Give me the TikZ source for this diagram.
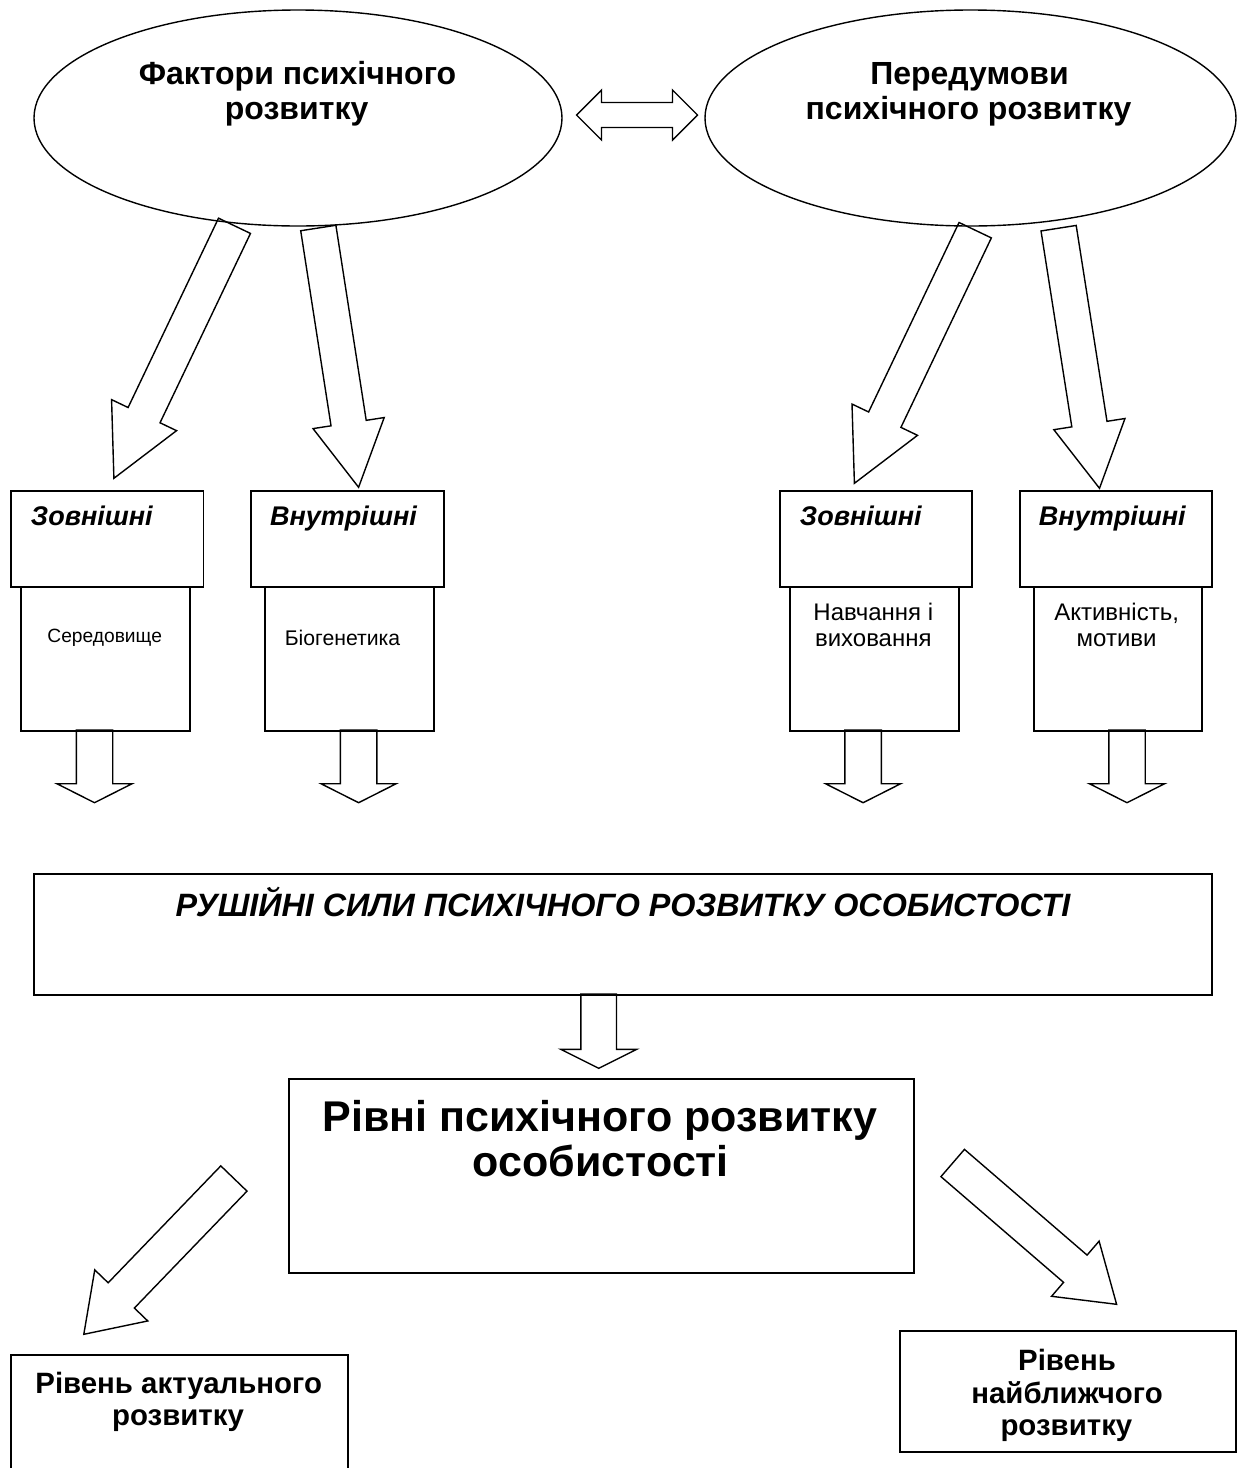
\documentclass[tikz,border=0pt]{standalone}
\usepackage{fontspec}
\setmainfont{Liberation Sans}
\usetikzlibrary{calc,shapes.geometric}
\tikzset{
  frame/.style={draw, line width=1.8pt, rectangle, inner sep=0pt, anchor=north west},
  oval/.style={draw, line width=1.4pt, ellipse, inner sep=0pt},
  barrow/.style={draw, line width=1.4pt, line join=miter},
  ttl/.style={font=\fontsize{32}{36}\selectfont\bfseries, anchor=base, inner sep=0pt},
  hdr/.style={font=\fontsize{27}{31}\selectfont\bfseries\itshape, anchor=base, inner sep=0pt},
  sml/.style={font=\fontsize{19.2}{22}\selectfont, anchor=base, inner sep=0pt},
  mid/.style={font=\fontsize{24}{27}\selectfont, anchor=base, inner sep=0pt},
  rush/.style={font=\fontsize{32.3}{36}\selectfont\bfseries\itshape, anchor=base, inner sep=0pt},
  big/.style={font=\fontsize{43}{47}\selectfont\bfseries, anchor=base, inner sep=0pt},
  lvl/.style={font=\fontsize{29.4}{33}\selectfont\bfseries, anchor=base, inner sep=0pt},
}
\newcommand\blkarrow[5]{%
  \coordinate (ba-h) at ($(#2)!#5!(#1)$);
  \draw[barrow] ($(#1)!#3!90:(#2)$) -- ($(ba-h)!#3!90:(#2)$) -- ($(ba-h)!#4!90:(#2)$) -- (#2)
    -- ($(ba-h)!#4!-90:(#2)$) -- ($(ba-h)!#3!-90:(#2)$) -- ($(#1)!#3!-90:(#2)$) -- cycle;}
\begin{document}
\begin{tikzpicture}[x=1pt,y=-1pt]
\useasboundingbox (0,0) rectangle (1243,1468);
\fill[white] (0,0) rectangle (1243,1468);
\clip (0,0) rectangle (1243,1468);

% ellipses
\node[oval, minimum width=528pt, minimum height=216pt] (fak) at (298,118) {};
\node[oval, minimum width=531pt, minimum height=216pt] (pered) at (970.5,118) {};
\node[ttl] (fak1) at (297.5,84) {Фактори психічного};
\node[ttl] (fak2) at (296.6,119.5) {розвитку};
\node[ttl] (per1) at (969.5,84) {Передумови};
\node[ttl] (per2) at (968.5,119.5) {психічного розвитку};

% double arrow
\coordinate (dl) at (576.5,115);
\coordinate (dr) at (697.5,115);
\draw[barrow] (dl) -- ++(25,-25) -- ++(0,12.5) -- ($(dr)+(-25,-12.5)$) -- ++(0,-12.5) -- (dr)
  -- ++(-25,25) -- ++(0,-12.5) -- ($(dl)+(25,12.5)$) -- ++(0,12.5) -- cycle;

% boxes
\node[frame, minimum width=192.5pt, minimum height=96pt] (z1) at (10,490) {};
\node[frame, minimum width=169.2pt, minimum height=144pt] (s1) at (19.8,586) {};
\node[frame, minimum width=192.6pt, minimum height=96pt] (v1) at (250.3,490) {};
\node[frame, minimum width=169pt, minimum height=144pt] (b1) at (264,586) {};
\node[frame, minimum width=192.2pt, minimum height=96pt] (z2) at (779,490) {};
\node[frame, minimum width=168.8pt, minimum height=144pt] (n2) at (788.9,586) {};
\node[frame, minimum width=191.9pt, minimum height=96pt] (v2) at (1019.3,490) {};
\node[frame, minimum width=167.7pt, minimum height=144pt] (a2) at (1033.2,586) {};
\node[frame, minimum width=1178pt, minimum height=120.7pt] (rs) at (33.3,873.3) {};
\node[frame, minimum width=625.4pt, minimum height=193.4pt] (rv) at (287.8,1078.3) {};
\node[frame, minimum width=337.3pt, minimum height=140pt] (ak) at (9.9,1354.3) {};
\node[frame, minimum width=336.1pt, minimum height=121pt] (nb) at (898.9,1330) {};

% box texts
\node[hdr] (z1t) at (91.8,525) {Зовнішні};
\node[hdr] (v1t) at (343.5,525) {Внутрішні};
\node[hdr] (z2t) at (860.8,525) {Зовнішні};
\node[hdr] (v2t) at (1112.3,525) {Внутрішні};
\node[sml] (s1t) at (104.7,642.7) {Середовище};
\node[sml, font=\fontsize{21.2}{24}\selectfont] (b1t) at (342.5,645) {Біогенетика};
\node[mid] (n2t) at (873.3,620) {Навчання і};
\node[mid] (n2u) at (873.3,646.7) {виховання};
\node[mid] (a2t) at (1116.6,620) {Активність,};
\node[mid] (a2u) at (1116.6,646.7) {мотиви};
\node[rush] (rst) at (623,916.7) {РУШІЙНІ СИЛИ ПСИХІЧНОГО РОЗВИТКУ ОСОБИСТОСТІ};
\node[big] (rvt) at (599.7,1131.7) {Рівні психічного розвитку};
\node[big] (rvu) at (600.9,1176.7) {особистості};
\node[lvl] (akt) at (178.7,1393.3) {Рівень актуального};
\node[lvl] (aku) at (178,1425) {розвитку};
\node[lvl] (nbt) at (1067,1370) {Рівень};
\node[lvl] (nbu) at (1067,1403.3) {найближчого};
\node[lvl] (nbv) at (1066.4,1435) {розвитку};

% diagonal block arrows
\coordinate (a1t) at (234.5,225.8); \coordinate (a1h) at (113.9,478.3);
\coordinate (a2t) at (318.3,228);   \coordinate (a2h) at (358.6,487.3);
\coordinate (a3t) at (975.2,230.2); \coordinate (a3h) at (854.4,483.3);
\coordinate (a4t) at (1058.6,228.2);\coordinate (a4h) at (1099.5,488.3);
\blkarrow{a1t}{a1h}{17.7pt}{36pt}{70pt}
\blkarrow{a2t}{a2h}{17.8pt}{36pt}{65pt}
\blkarrow{a3t}{a3h}{17.9pt}{36.3pt}{70.5pt}
\blkarrow{a4t}{a4h}{17.8pt}{36pt}{65pt}

% small down arrows
\coordinate (d1t) at (94.5,730);   \coordinate (d1h) at (94.5,802.7);
\coordinate (d2t) at (358.6,730);  \coordinate (d2h) at (358.6,802.7);
\coordinate (d3t) at (863.1,730);  \coordinate (d3h) at (863.1,802.7);
\coordinate (d4t) at (1127,730);   \coordinate (d4h) at (1127,802.7);
\blkarrow{d1t}{d1h}{18.2pt}{37.6pt}{19pt}
\blkarrow{d2t}{d2h}{18.2pt}{37.6pt}{19pt}
\blkarrow{d3t}{d3h}{18.2pt}{37.6pt}{19pt}
\blkarrow{d4t}{d4h}{18.2pt}{37.6pt}{19pt}

\coordinate (mt) at (598.7,994); \coordinate (mh) at (598.7,1068.3);
\blkarrow{mt}{mh}{17.8pt}{38pt}{19pt}

% lower diagonal arrows
\coordinate (b1s) at (233.9,1178.5); \coordinate (b1e) at (83.8,1334.3);
\coordinate (b2s) at (952.7,1163);   \coordinate (b2e) at (1116.6,1304.3);
\blkarrow{b1s}{b1e}{18.2pt}{36.8pt}{54pt}
\blkarrow{b2s}{b2e}{18pt}{36.4pt}{54.5pt}
\end{tikzpicture}
\end{document}
